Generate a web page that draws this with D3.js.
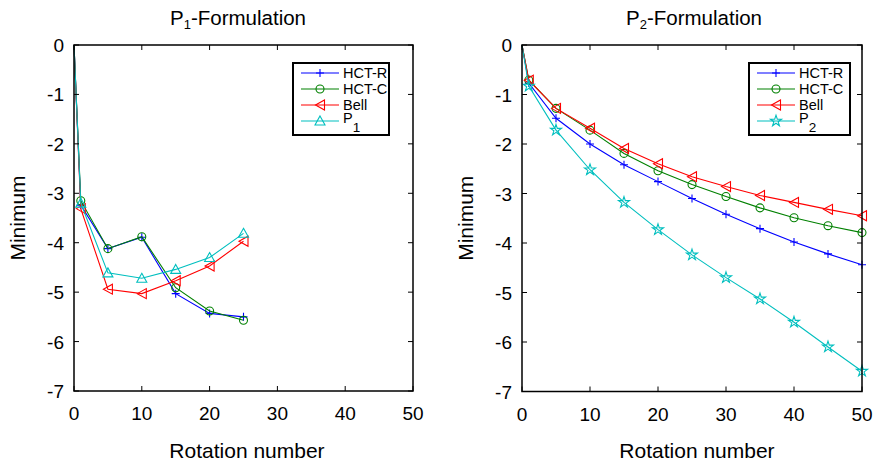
<!DOCTYPE html>
<html>
<head>
<meta charset="utf-8">
<script src="https://cdn.jsdelivr.net/npm/d3@7"></script>
<style>
  body { margin: 0; background: #fff; }
  svg { display: block; font-family: "Liberation Sans", Arial, sans-serif; }
</style>
</head>
<body>
<div id="chart"></div>
<script>
// rotation numbers
const leftX = [0, 1, 5, 10, 15, 20, 25];
const rightX = [0, 1, 5, 10, 15, 20, 25, 30, 35, 40, 45, 50];

// P1-formulation minima
const leftHctR = [0, -3.24, -4.12, -3.89, -5.03, -5.43, -5.50];
const leftHctC = [0, -3.15, -4.12, -3.88, -4.91, -5.38, -5.57];
const leftBell = [0, -3.31, -4.94, -5.03, -4.77, -4.47, -3.97];
const leftP1   = [0, -3.20, -4.61, -4.72, -4.54, -4.30, -3.81];

// P2-formulation minima
const rightHctR = [0, -0.77, -1.48, -2.00, -2.42, -2.76, -3.10, -3.42, -3.71, -3.98, -4.22, -4.44];
const rightHctC = [0, -0.71, -1.28, -1.72, -2.19, -2.54, -2.82, -3.06, -3.29, -3.49, -3.65, -3.79];
const rightBell = [0, -0.71, -1.28, -1.68, -2.09, -2.40, -2.66, -2.86, -3.04, -3.18, -3.32, -3.45];
const rightP2   = [0, -0.83, -1.72, -2.52, -3.18, -3.73, -4.24, -4.70, -5.13, -5.60, -6.10, -6.59];

const xTicks = [0, 10, 20, 30, 40, 50];
const yTicks = [0, -1, -2, -3, -4, -5, -6, -7];

const width = 876, height = 465;
const svg = d3.select("#chart").append("svg")
  .attr("width", width)
  .attr("height", height);

const colors = {blue: "#0000ff", green: "#008000", red: "#ff0000", cyan: "#00bfbf"};

function markerPath(kind) {
  if (kind == "plus") return "M-4,0H4M0,-4V4";
  if (kind == "circle") return d3.symbol(d3.symbolCircle, 50)();
  if (kind == "tri") return "M-4.5,0L4.5,-5L4.5,5Z";
  if (kind == "up") return "M0,-5L5,4L-5,4Z";
  if (kind == "star") return d3.symbol(d3.symbolStar, 38)();
}

function drawPanel(box, sub, xs, series) {
  const x = d3.scaleLinear().domain([0, 50]).range([box.x0, box.x1]);
  const y = d3.scaleLinear().domain([0, -7]).range([box.y0, box.y1]);
  const g = svg.append("g");

  // series
  const line = d3.line().x((d, i) => x(xs[i])).y(d => y(d));
  series.forEach(s => {
    g.append("path")
      .attr("d", line(s.values))
      .attr("fill", "none")
      .attr("stroke", s.color)
      .attr("stroke-width", 1.1);
    g.selectAll(null)
      .data(s.values.slice(1))
      .enter().append("path")
      .attr("transform", (d, i) => `translate(${x(xs[i + 1])},${y(d)})`)
      .attr("d", markerPath(s.marker))
      .attr("fill", "none")
      .attr("stroke", s.color)
      .attr("stroke-width", 1.1);
  });

  // frame with inward ticks
  const tl = 5;
  xTicks.forEach(t => {
    g.append("line").attr("x1", x(t)).attr("x2", x(t)).attr("y1", box.y1).attr("y2", box.y1 - tl).attr("stroke", "#000");
    g.append("line").attr("x1", x(t)).attr("x2", x(t)).attr("y1", box.y0).attr("y2", box.y0 + tl).attr("stroke", "#000");
    g.append("text").attr("x", x(t)).attr("y", box.y1 + 29)
      .attr("text-anchor", "middle").attr("font-size", 19).text(t);
  });
  yTicks.forEach(t => {
    g.append("line").attr("x1", box.x0).attr("x2", box.x0 + tl).attr("y1", y(t)).attr("y2", y(t)).attr("stroke", "#000");
    g.append("line").attr("x1", box.x1).attr("x2", box.x1 - tl).attr("y1", y(t)).attr("y2", y(t)).attr("stroke", "#000");
    g.append("text").attr("x", box.x0 - 10).attr("y", y(t) + 7)
      .attr("text-anchor", "end").attr("font-size", 19).text(t);
  });
  g.append("rect")
    .attr("x", box.x0).attr("y", box.y0)
    .attr("width", box.x1 - box.x0).attr("height", box.y1 - box.y0)
    .attr("fill", "none").attr("stroke", "#000").attr("stroke-width", 1.5);

  const t = g.append("text").attr("x", box.tx).attr("y", 25)
    .attr("text-anchor", "middle").attr("font-size", 20.5);
  t.append("tspan").text("P");
  t.append("tspan").attr("font-size", 13).attr("dy", 4).text(sub);
  t.append("tspan").attr("dy", -4).text("-Formulation");

  g.append("text").attr("x", box.lbx).attr("y", 458)
    .attr("text-anchor", "middle").attr("font-size", 21).text("Rotation number");
  g.append("text")
    .attr("transform", `translate(${box.x0 - 49},${(box.y0 + box.y1) / 2}) rotate(-90)`)
    .attr("text-anchor", "middle").attr("font-size", 21).text("Minimum");

  // legend
  const lg = g.append("g").attr("transform", `translate(${box.lx},${box.ly})`);
  lg.append("rect").attr("x", 0).attr("y", 0).attr("width", box.lw).attr("height", 72)
    .attr("fill", "#fff").attr("stroke", "#000").attr("stroke-width", 2);
  series.forEach((s, i) => {
    const ry = 10 + i * 16;
    lg.append("line").attr("x1", 8).attr("x2", 46).attr("y1", ry).attr("y2", ry)
      .attr("stroke", s.color).attr("stroke-width", 1.1);
    lg.append("path").attr("transform", `translate(27,${ry})`).attr("d", markerPath(s.marker))
      .attr("fill", "none").attr("stroke", s.color).attr("stroke-width", 1.1);
    const tx = lg.append("text").attr("x", 50).attr("y", ry + 5).attr("font-size", 14.5);
    if (s.sub) {
      tx.attr("y", ry + 2);
      tx.append("tspan").text(s.name);
      tx.append("tspan").attr("font-size", 13.5).attr("dy", 9).text(s.sub);
    } else {
      tx.text(s.name);
    }
  });
}

drawPanel({x0: 74, x1: 413, y0: 45, y1: 391, lx: 293, ly: 63, lw: 96, tx: 238, lbx: 247}, "1", leftX, [
  {name: "HCT-R", values: leftHctR, color: colors.blue, marker: "plus"},
  {name: "HCT-C", values: leftHctC, color: colors.green, marker: "circle"},
  {name: "Bell", values: leftBell, color: colors.red, marker: "tri"},
  {name: "P", sub: "1", values: leftP1, color: colors.cyan, marker: "up"}
]);

drawPanel({x0: 522, x1: 862, y0: 45, y1: 391.5, lx: 749, ly: 63, lw: 101, tx: 694, lbx: 697}, "2", rightX, [
  {name: "HCT-R", values: rightHctR, color: colors.blue, marker: "plus"},
  {name: "HCT-C", values: rightHctC, color: colors.green, marker: "circle"},
  {name: "Bell", values: rightBell, color: colors.red, marker: "tri"},
  {name: "P", sub: "2", values: rightP2, color: colors.cyan, marker: "star"}
]);
</script>
</body>
</html>
